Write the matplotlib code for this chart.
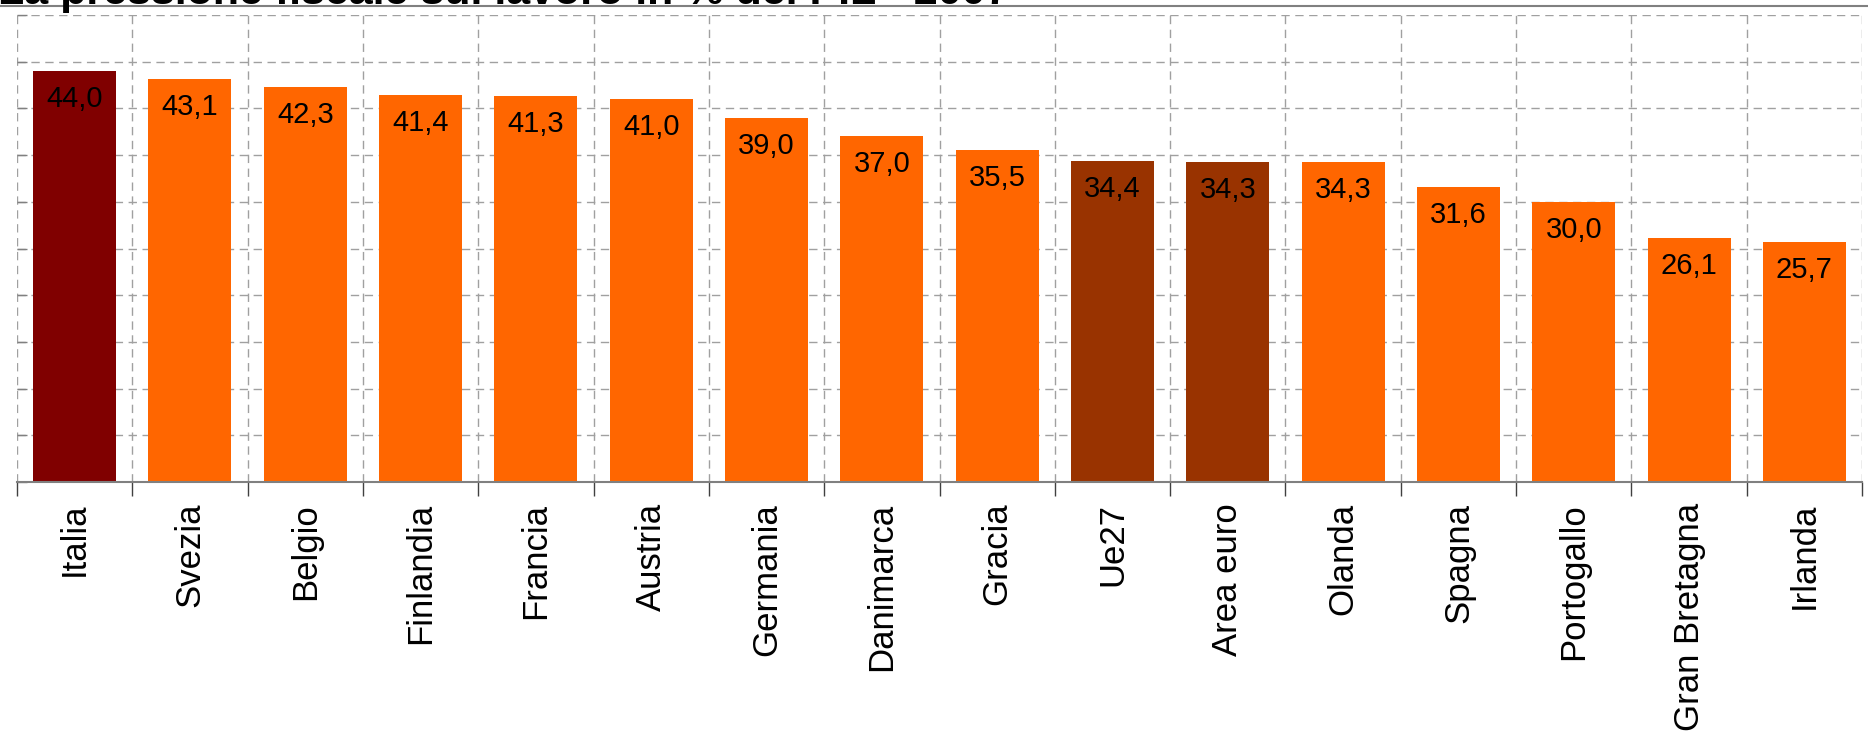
import matplotlib
matplotlib.use("Agg")
import matplotlib.pyplot as plt
from matplotlib.lines import Line2D
import numpy as np

plt.rcParams['font.family'] = ['Liberation Sans', 'DejaVu Sans']

# data
paesi = ['Italia', 'Svezia', 'Belgio', 'Finlandia', 'Francia', 'Austria', 'Germania',
         'Danimarca', 'Gracia', 'Ue27', 'Area euro', 'Olanda', 'Spagna', 'Portogallo',
         'Gran Bretagna', 'Irlanda']
valori = [44.0, 43.1, 42.3, 41.4, 41.3, 41.0, 39.0, 37.0, 35.5, 34.4, 34.3, 34.3,
          31.6, 30.0, 26.1, 25.7]
colori = ['#800000'] + ['#FF6600'] * 8 + ['#993300', '#993300'] + ['#FF6600'] * 5

W, H = 1868, 746
fig = plt.figure(figsize=(W / 100, H / 100), dpi=100)
ax = fig.add_axes([17 / W, 1 - 482 / H, (1862 - 17) / W, (482 - 15) / H])

x = np.arange(len(paesi))
ax.bar(x, valori, width=0.72, color=colori, zorder=3)

for xi, v in zip(x, valori):
    ax.annotate(f"{v:.1f}".replace('.', ','), (xi, v), xytext=(0, -10),
                textcoords='offset points', ha='center', va='top',
                fontsize=21, color='black', zorder=4)

ax.set_xlim(-0.5, len(paesi) - 0.5)
ax.set_ylim(0, 50)

# category labels at bar centres, tick marks / grid at boundaries
ax.set_xticks(x)
ax.set_xticklabels(paesi, rotation=90, fontsize=25)
ax.tick_params(axis='x', which='major', length=0, pad=15)
ax.set_xticks(np.arange(-0.5, len(paesi)), minor=True)
ax.tick_params(axis='x', which='minor', length=10, width=1, color='#404040',
               direction='out')

ax.set_yticks(np.arange(0, 51, 5))
ax.set_yticklabels([])
ax.tick_params(axis='y', which='major', length=7, width=1, color='#808080',
               direction='in')

ax.grid(True, which='minor', axis='x', color='#A0A0A0', linestyle=(0, (6, 4)),
        linewidth=1, zorder=0)
ax.grid(True, which='major', axis='y', color='#A0A0A0', linestyle=(0, (6, 4)),
        linewidth=1, zorder=0)
ax.grid(False, which='major', axis='x')

for s in ['top', 'right', 'left']:
    ax.spines[s].set_visible(False)
ax.spines['bottom'].set_color('#808080')
ax.spines['bottom'].set_linewidth(1.5)
ax.spines['bottom'].set_zorder(5)

# title is clipped by the top edge in the original
fig.text(-2 / W, 1 - 4 / H, "La pressione fiscale sul lavoro in % del PIL - 2007",
         fontsize=31, fontweight='bold', ha='left', va='baseline')
fig.add_artist(Line2D([0, 1], [1 - 6 / H, 1 - 6 / H], color='#808080',
                      linewidth=1.5, transform=fig.transFigure))

fig.savefig('out.png', dpi=100)
